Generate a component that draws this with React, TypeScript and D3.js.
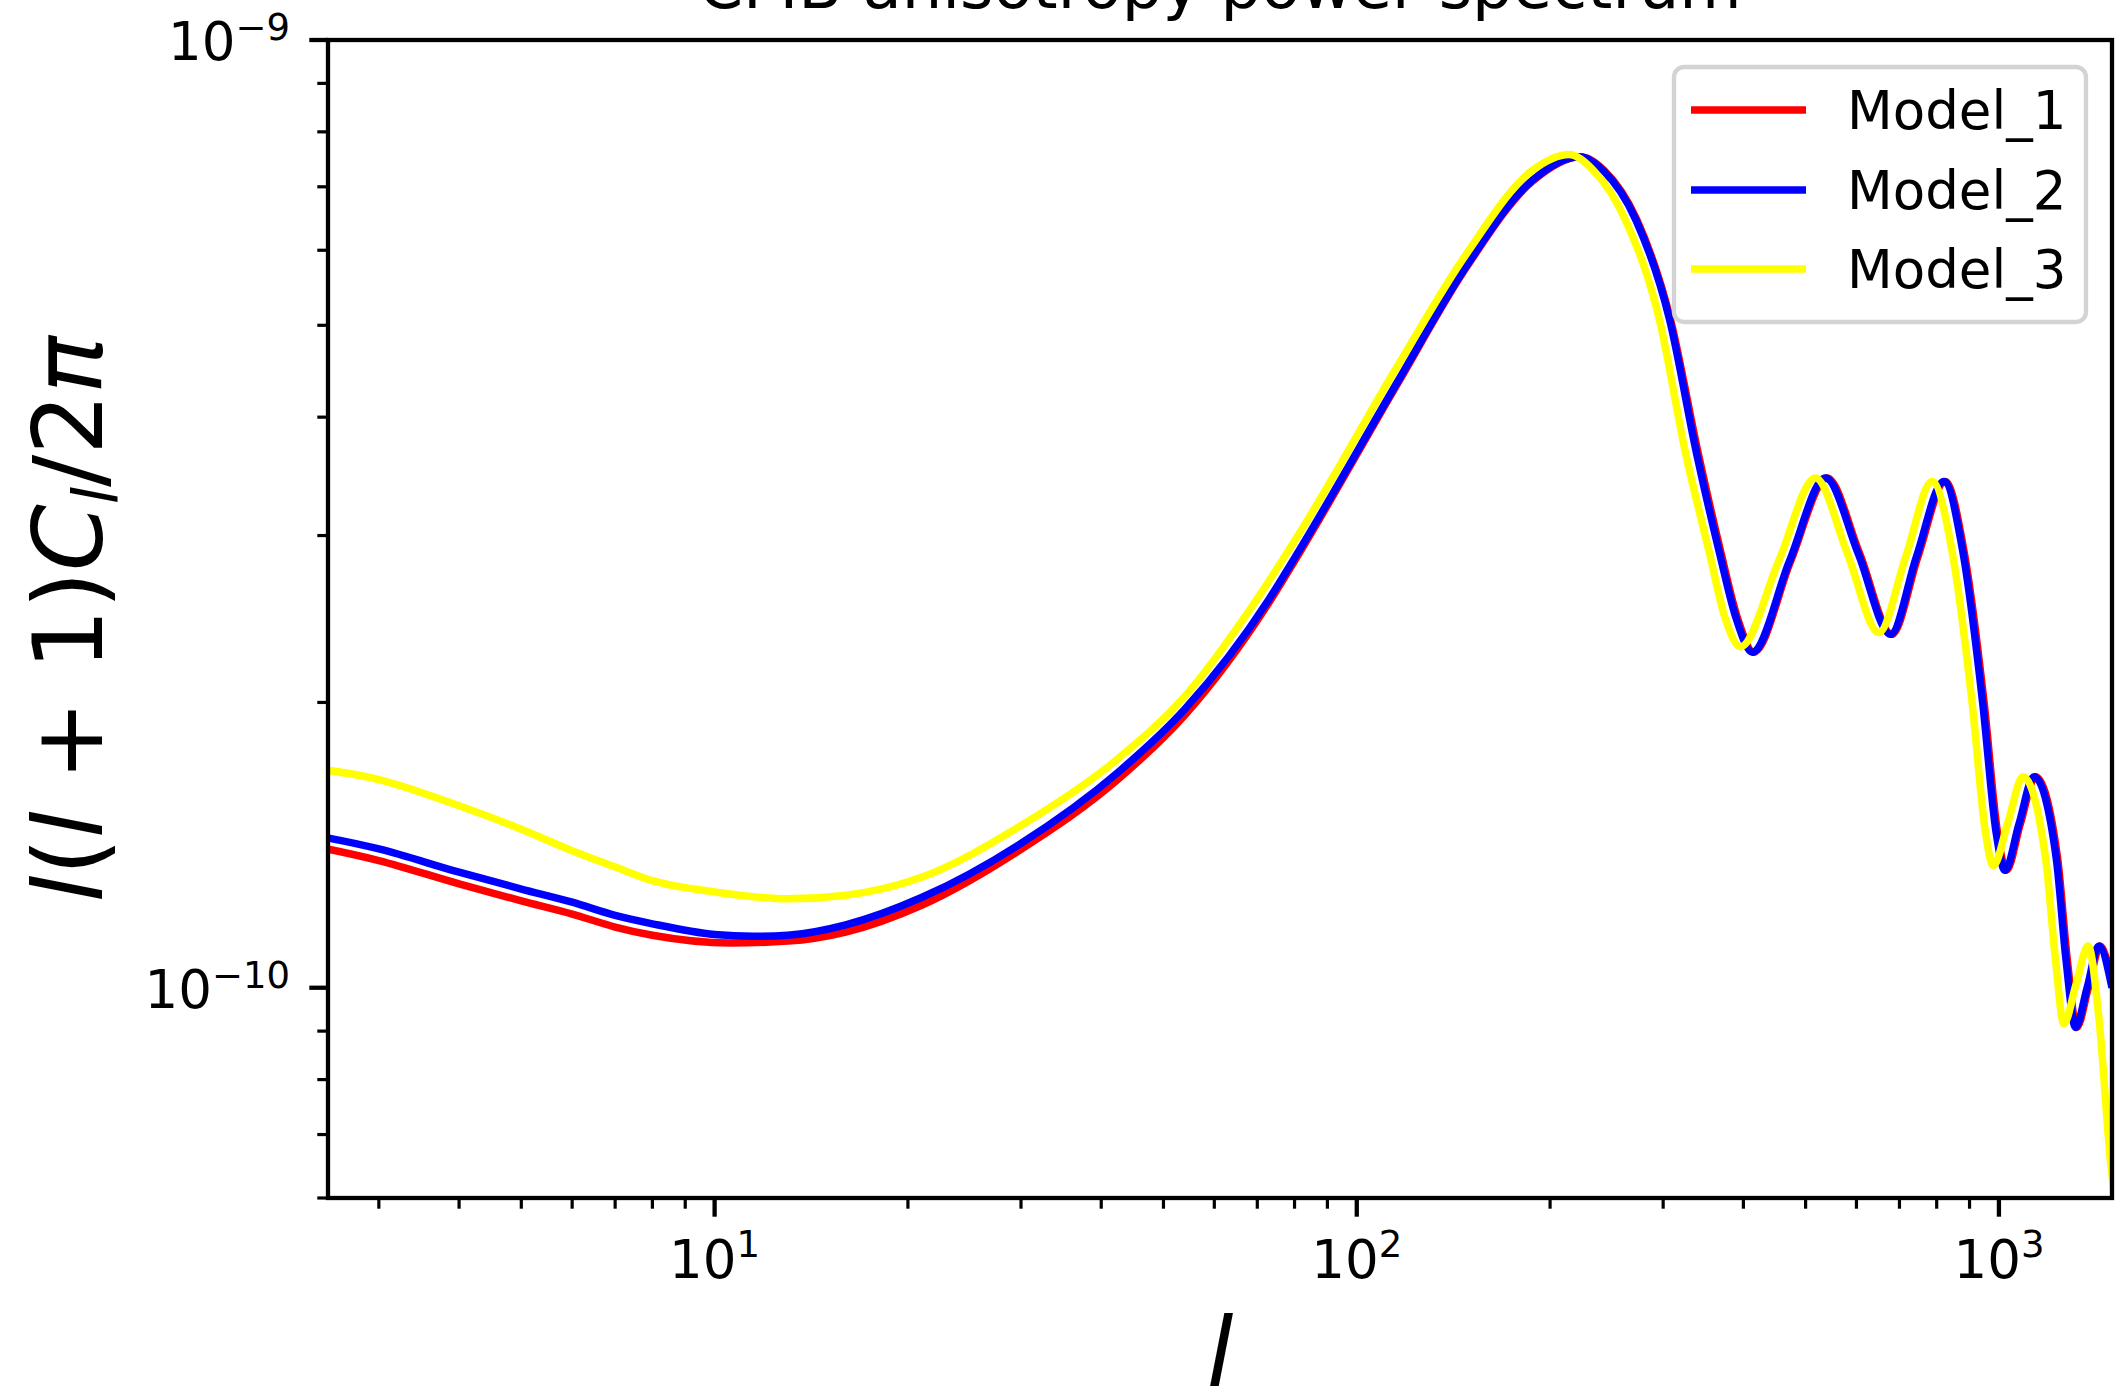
import * as d3 from "d3";

// multipole l and l(l+1)C_l/2π in units of 1e-10
const model1Ell = [2, 3, 4, 5, 6, 7, 8, 10.6, 13, 16, 21, 30, 42.5, 54, 73, 81, 116, 148, 188, 223, 243, 273, 308, 340, 369, 392, 415, 474, 540, 607, 681, 748, 825, 883, 949, 995, 1027, 1080, 1140, 1234, 1278, 1322, 1378, 1438, 1500];
const model1Power = [1.442, 1.362, 1.287, 1.235, 1.196, 1.159, 1.136, 1.115, 1.12, 1.145, 1.222, 1.4, 1.66, 1.94, 2.55, 2.86, 4.35, 5.75, 7.1, 7.53, 7.28, 6.46, 5.07, 3.67, 2.88, 2.45, 2.26, 2.82, 3.45, 2.87, 2.36, 2.85, 3.42, 2.88, 1.99, 1.458, 1.33, 1.49, 1.67, 1.371, 1.07, 0.908, 1.0, 1.107, 1.01];

const model2Ell = [2, 3, 4, 5, 6, 7, 8, 10, 11.5, 13, 16, 21, 30, 42.5, 54, 73, 81, 116, 148, 188, 222, 242, 272, 307, 338, 367, 390, 413, 472, 537, 604, 678, 744, 821, 879, 944, 990, 1022, 1075, 1134, 1228, 1272, 1316, 1372, 1431, 1500];
const model2Power = [1.478, 1.401, 1.324, 1.271, 1.231, 1.192, 1.168, 1.138, 1.133, 1.136, 1.165, 1.245, 1.42, 1.688, 1.968, 2.57, 2.88, 4.37, 5.77, 7.12, 7.53, 7.28, 6.46, 5.07, 3.67, 2.88, 2.45, 2.26, 2.82, 3.45, 2.87, 2.36, 2.85, 3.42, 2.88, 1.99, 1.458, 1.33, 1.49, 1.67, 1.371, 1.07, 0.908, 1.0, 1.107, 1.0];

const model3Ell = [2, 3, 4, 5, 6, 7, 8, 10, 13, 16, 21, 30, 42.5, 54, 68, 81, 116, 148, 188, 214, 233, 262, 296, 325, 354, 375, 396, 454, 518, 581, 650, 716, 787, 846, 909, 953, 980, 1034, 1090, 1182, 1225, 1262, 1318, 1377, 1431, 1494, 1510];
const model3Power = [1.72, 1.658, 1.556, 1.47, 1.395, 1.341, 1.297, 1.262, 1.241, 1.252, 1.308, 1.483, 1.745, 2.03, 2.5, 3.0, 4.54, 5.94, 7.29, 7.57, 7.3, 6.46, 5.07, 3.67, 2.88, 2.45, 2.29, 2.82, 3.45, 2.87, 2.37, 2.85, 3.42, 2.88, 1.99, 1.458, 1.345, 1.498, 1.67, 1.371, 1.07, 0.916, 1.007, 1.107, 0.93, 0.65, 0.61];

const modelNames = ["Model_1", "Model_2", "Model_3"];
const modelColors = ["#ff0000", "#0000ff", "#ffff00"];

const xDomain = [2.5, 1500];
const yDomain = [6e-11, 1e-9];

const WIDTH = 2115;
const HEIGHT = 1390;
const MARGIN = { top: 40, right: 3, bottom: 192, left: 328 };
const FONT = "DejaVu Sans";

function isDecade(v: number) {
  const lg = Math.log10(v);
  return Math.abs(lg - Math.round(lg)) < 1e-9;
}

function expLabel(v: number) {
  const e = Math.round(Math.log10(v));
  return e < 0 ? `\u2212${-e}` : `${e}`;
}

export default function App() {
  const x = d3.scaleLog().domain(xDomain).range([MARGIN.left, WIDTH - MARGIN.right]);
  const y = d3.scaleLog().domain(yDomain).range([HEIGHT - MARGIN.bottom, MARGIN.top]);
  const x0 = MARGIN.left;
  const x1 = WIDTH - MARGIN.right;
  const y0 = HEIGHT - MARGIN.bottom;
  const y1 = MARGIN.top;
  const midX = (x0 + x1) / 2;
  const midY = (y0 + y1) / 2;

  const series = [
    { ell: model1Ell, power: model1Power },
    { ell: model2Ell, power: model2Power },
    { ell: model3Ell, power: model3Power },
  ];

  const line = d3
    .line<[number, number]>()
    .x((d) => x(d[0]))
    .y((d) => y(d[1] * 1e-10))
    .curve(d3.curveMonotoneX);

  const xTicks = x.ticks();
  const yTicks = y.ticks();

  const majorLen = 18.7;
  const minorLen = 10.7;

  // legend layout
  const legX = 1674;
  const legY = 67;
  const legW = 412;
  const legH = 255;
  const rowY = [110, 190, 269];

  return (
    <svg
      width={WIDTH}
      height={HEIGHT}
      style={{ position: "absolute", left: 0, top: 0, background: "#fff" }}
      fontFamily={FONT}
    >
      <defs>
        <clipPath id="plot-area">
          <rect x={x0} y={y1} width={x1 - x0} height={y0 - y1} />
        </clipPath>
      </defs>
      <rect x={0} y={0} width={WIDTH} height={HEIGHT} fill="#fff" />

      {/* title, cut off by the top edge */}
      <text x={midX} y={8} textAnchor="middle" fontSize={64} fill="#000">
        CMB anisotropy power spectrum
      </text>

      {/* curves */}
      <g clipPath="url(#plot-area)">
        {series.map((s, i) => (
          <path
            key={modelNames[i]}
            d={line(s.ell.map((l, j) => [l, s.power[j]] as [number, number])) || ""}
            fill="none"
            stroke={modelColors[i]}
            strokeWidth={7.5}
            strokeLinejoin="round"
            strokeLinecap="butt"
          />
        ))}
      </g>

      {/* x ticks */}
      {xTicks.map((t, i) => {
        const major = isDecade(t);
        return (
          <line
            key={`xt${i}`}
            x1={x(t)}
            x2={x(t)}
            y1={y0}
            y2={y0 + (major ? majorLen : minorLen)}
            stroke="#000"
            strokeWidth={major ? 4.3 : 3.2}
          />
        );
      })}
      {xTicks.filter(isDecade).map((t, i) => (
        <text key={`xl${i}`} x={x(t)} y={y0 + 80} textAnchor="middle" fontSize={53} fill="#000">
          10
          <tspan dy={-21} fontSize={37}>
            {expLabel(t)}
          </tspan>
        </text>
      ))}

      {/* y ticks */}
      {yTicks.map((t, i) => {
        const major = isDecade(t);
        return (
          <line
            key={`yt${i}`}
            x1={x0}
            x2={x0 - (major ? majorLen : minorLen)}
            y1={y(t)}
            y2={y(t)}
            stroke="#000"
            strokeWidth={major ? 4.3 : 3.2}
          />
        );
      })}
      {yTicks.filter(isDecade).map((t, i) => (
        <text key={`yl${i}`} x={x0 - 38} y={y(t) + 20} textAnchor="end" fontSize={53} fill="#000">
          10
          <tspan dy={-20} fontSize={37}>
            {expLabel(t)}
          </tspan>
        </text>
      ))}

      {/* spines */}
      <rect
        x={x0}
        y={y1}
        width={x1 - x0}
        height={y0 - y1}
        fill="none"
        stroke="#000"
        strokeWidth={4.3}
        strokeLinejoin="miter"
      />

      {/* axis labels */}
      <text x={midX} y={1386} textAnchor="middle" fontSize={96} fontStyle="italic" fill="#000">
        l
      </text>
      <text
        transform={`translate(102,${midY}) rotate(-90)`}
        textAnchor="middle"
        fontSize={96}
        fill="#000"
      >
        <tspan fontStyle="italic">l</tspan>
        <tspan>(</tspan>
        <tspan fontStyle="italic">l</tspan>
        <tspan> + 1)</tspan>
        <tspan fontStyle="italic">C</tspan>
        <tspan fontStyle="italic" fontSize={62} dy={15}>
          l
        </tspan>
        <tspan dy={-15}>/2</tspan>
        <tspan fontStyle="italic">π</tspan>
      </text>

      {/* legend */}
      <g>
        <rect
          x={legX}
          y={legY}
          width={legW}
          height={legH}
          rx={10}
          ry={10}
          fill="#fff"
          fillOpacity={0.8}
          stroke="#d3d3d3"
          strokeWidth={4.3}
        />
        {modelNames.map((name, i) => (
          <g key={name}>
            <line
              x1={1691}
              x2={1806}
              y1={rowY[i]}
              y2={rowY[i]}
              stroke={modelColors[i]}
              strokeWidth={7.5}
            />
            <text x={1847} y={rowY[i] + 19} fontSize={53} fill="#000">
              {name}
            </text>
          </g>
        ))}
      </g>
    </svg>
  );
}
